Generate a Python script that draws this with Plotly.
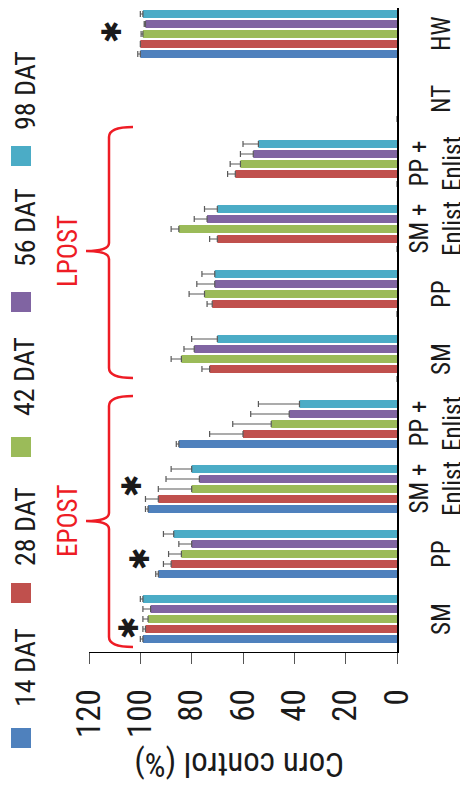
import plotly.graph_objects as go

# ---- data ----
categories = ["SM", "PP", "SM +<br>Enlist", "PP +<br>Enlist",
              "SM", "PP", "SM +<br>Enlist", "PP +<br>Enlist", "NT", "HW"]
series_names = ["14 DAT", "28 DAT", "42 DAT", "56 DAT", "98 DAT"]
series_colors = ["#4F81BD", "#C0504D", "#9BBB59", "#8064A2", "#4BACC6"]

dat14 = [99, 93, 97, 85, 0, 0, 0, 0, 0, 100]
dat28 = [98, 88, 93, 60, 73, 72, 70, 63, None, 100]
dat42 = [97, 84, 80, 49, 84, 75, 85, 61, None, 99]
dat56 = [96, 80, 77, 42, 79, 71, 74, 56, None, 98]
dat98 = [99, 87, 80, 38, 70, 71, 70, 54, None, 99]

err14 = [1, 1, 1, 1, 0, 0, 0, 0, 0, 1]
err28 = [1, 3, 5, 13, 3, 2, 3, 3, None, 0]
err42 = [2, 5, 13, 15, 4, 6, 3, 4, None, 0.7]
err56 = [3, 5, 13, 15, 4, 7, 5, 5, None, 0.5]
err98 = [1, 4, 8, 16, 10, 5, 5, 6, None, 1]

x_ticks = [0, 20, 40, 60, 80, 100, 120]
x_title = "Corn control (%)"
groups = ["EPOST", "LPOST"]
star_labels = ["✱", "✱", "✱", "✱"]

values = [dat14, dat28, dat42, dat56, dat98]
errors = [err14, err28, err42, err56, err98]

FONT = "Liberation Sans Narrow, Arial Narrow, Roboto Condensed, Roboto, sans-serif"
OFF = 8  # page body margin
W, H = 468 - OFF, 791 - OFF
PLOT_X0, PLOT_X1, PLOT_Y1 = 89, 397, 652      # page pixels
L, R, T = PLOT_X0 - OFF, W - (PLOT_X1 - OFF), 0
B = H - (PLOT_Y1 - OFF)
PW, PH = W - L - R, H - T - B
ROW0, ROWSTEP = 619, 65  # page px of first category centre, spacing


def xp(px):
    return (px - PLOT_X0) / PW


def yp(py):
    return (PLOT_Y1 - py) / PH


fig = go.Figure()
ypos = list(range(len(categories)))
for name, col, v, e in zip(series_names, series_colors, values, errors):
    fig.add_trace(go.Bar(
        y=ypos, x=v, name=name, orientation="h",
        marker=dict(color=col, line=dict(width=0)),
        error_x=dict(type="data", array=e, symmetric=False, arrayminus=[0]*len(e),
                     color="#595959", thickness=1.2, width=3),
        showlegend=False,
    ))

annotations = []
shapes = []

# category labels (rotated, centred)
for i, c in enumerate(categories):
    cx = 436 if "<br>" in c else 441
    annotations.append(dict(text=c, xref="paper", yref="y",
                            x=xp(cx), y=i, xanchor="center", yanchor="middle",
                            textangle=-90, showarrow=False,
                            font=dict(family=FONT, size=25, color="#1a1a1a")))

# fake legend (rotated text)
sq_centers = [738, 593, 447, 302, 156]
txt_centers = [668, 527, 377, 228, 91]
for name, col, sc, tc in zip(series_names, series_colors, sq_centers, txt_centers):
    shapes.append(dict(type="rect", xref="paper", yref="paper",
                       x0=xp(11), x1=xp(31), y0=yp(sc + 10), y1=yp(sc - 10),
                       fillcolor=col, line=dict(width=0)))
    annotations.append(dict(text=name, xref="paper", yref="paper",
                            x=xp(25), y=yp(tc), xanchor="center", yanchor="middle",
                            textangle=-90, showarrow=False,
                            font=dict(family=FONT, size=28, color="#1a1a1a")))

# axis title (upside down)
annotations.append(dict(text=x_title, xref="paper", yref="paper",
                        x=xp(239), y=yp(764), xanchor="center", yanchor="middle",
                        textangle=180, showarrow=False,
                        font=dict(family=FONT, size=33, color="#1a1a1a")))

# braces + group labels
brace_specs = [(396, 647, 521), (127, 378, 251)]
for g, (top, bot, mid) in zip(groups, brace_specs):
    xv, xe, xt = 109, 133, 86
    pts = [
        f"M {xp(xe)},{yp(top)}",
        f"Q {xp(xv)},{yp(top)} {xp(xv)},{yp(top + 10)}",
        f"L {xp(xv)},{yp(mid - 8)}",
        f"Q {xp(xv)},{yp(mid)} {xp(xt)},{yp(mid)}",
        f"Q {xp(xv)},{yp(mid)} {xp(xv)},{yp(mid + 8)}",
        f"L {xp(xv)},{yp(bot - 10)}",
        f"Q {xp(xv)},{yp(bot)} {xp(xe)},{yp(bot)}",
    ]
    shapes.append(dict(type="path", xref="paper", yref="paper", path=" ".join(pts),
                       line=dict(color="#EE1C25", width=2.5)))
    annotations.append(dict(text=g, xref="paper", yref="paper",
                            x=xp(68), y=yp(mid), xanchor="center", yanchor="middle",
                            textangle=-90, showarrow=False,
                            font=dict(family=FONT, size=27, color="#EE1C25")))

# asterisks
star_pos = [(128, 628), (139, 559), (131, 486), (112, 32)]
for s, (sx, sy) in zip(star_labels, star_pos):
    annotations.append(dict(text=s, xref="paper", yref="paper",
                            x=xp(sx), y=yp(sy), xanchor="center", yanchor="middle",
                            textangle=-90, showarrow=False,
                            font=dict(family="DejaVu Sans", size=27, color="#1a1a1a")))

fig.update_layout(
    width=W, height=H,
    margin=dict(l=L, r=R, t=T, b=B, pad=0, autoexpand=False),
    paper_bgcolor="white", plot_bgcolor="white",
    barmode="group", bargap=0.23, bargroupgap=0.18,
    shapes=shapes, annotations=annotations,
    font=dict(family=FONT, color="#1a1a1a"),
)
fig.update_xaxes(
    range=[120, 0], tickvals=x_ticks, ticktext=[str(t) for t in x_ticks],
    tickangle=-90, showgrid=False, zeroline=False, automargin=False,
    showline=True, linecolor="black", linewidth=1,
    ticks="outside", ticklen=11, tickcolor="#555", tickwidth=1,
    ticklabelstandoff=12,
    tickfont=dict(family=FONT, size=33, color="#1a1a1a"),
)
fig.update_yaxes(
    range=[(ROW0 - PLOT_Y1) / ROWSTEP, (ROW0 - OFF) / ROWSTEP],
    tickvals=ypos, showticklabels=False,
    side="right", showgrid=False, zeroline=False, automargin=False,
    showline=True, linecolor="black", linewidth=1.5, ticks="",
)

fig.write_html("out.html")
